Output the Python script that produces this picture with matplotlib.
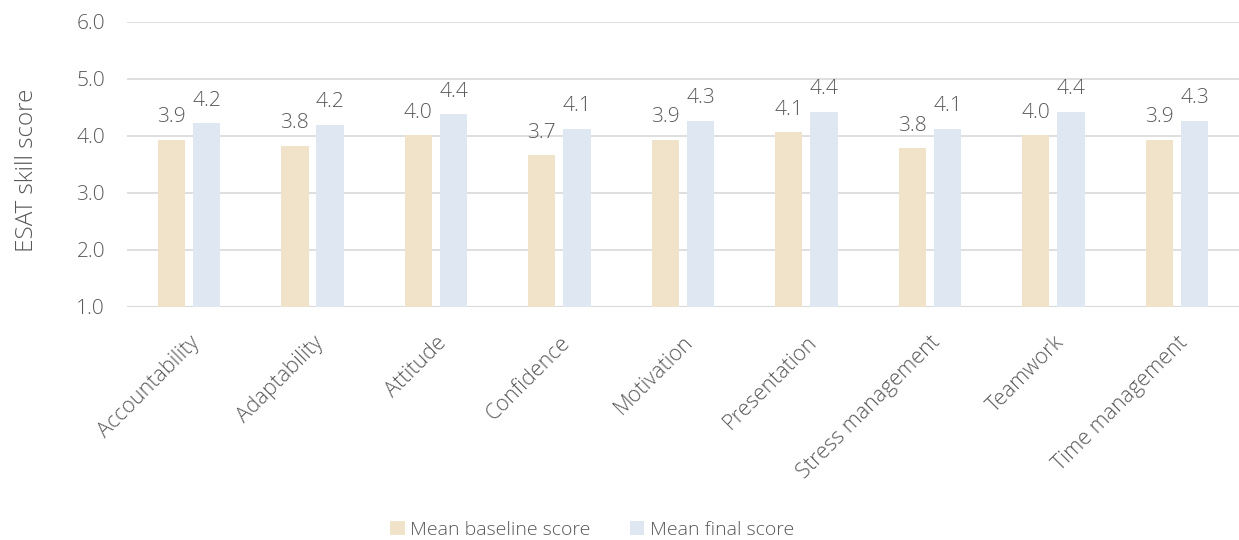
import matplotlib
matplotlib.use('Agg')
import matplotlib.pyplot as plt
import numpy as np

plt.rcParams['font.family'] = ['Open Sans', 'DejaVu Sans']

skills = ['Accountability', 'Adaptability', 'Attitude', 'Confidence', 'Motivation',
          'Presentation', 'Stress management', 'Teamwork', 'Time management']
baseline = [3.93, 3.83, 4.01, 3.66, 3.93, 4.06, 3.78, 4.01, 3.93]
final = [4.22, 4.19, 4.38, 4.12, 4.26, 4.42, 4.12, 4.42, 4.26]

col_base = '#F1E3C9'
col_final = '#DFE7F3'
txt = '#595959'
grid = '#D9D9D9'

fig = plt.figure(figsize=(12.39, 5.4), dpi=100)
ax = fig.add_axes([0.1027, 0.4315, 0.897, 0.5283])

x = np.arange(len(skills))
w = 0.222
off = 0.143
b1 = ax.bar(x - off, baseline, w, bottom=0, color=col_base, label='Mean baseline score', zorder=2)
b2 = ax.bar(x + off, final, w, bottom=0, color=col_final, label='Mean final score', zorder=2)

for bars, vals in ((b1, baseline), (b2, final)):
    for r, v in zip(bars, vals):
        ax.annotate('%.1f' % v, (r.get_x() + r.get_width() / 2, v),
                    xytext=(0, 9), textcoords='offset points',
                    ha='center', va='bottom', fontsize=15, color=txt,
                    fontweight='light')

ax.set_ylim(1, 6)
ax.set_xlim(-0.5, len(skills) - 0.5)
ax.set_yticks([1, 2, 3, 4, 5, 6])
ax.set_yticklabels(['%.1f' % t for t in [1, 2, 3, 4, 5, 6]])
ax.yaxis.grid(True, color=grid, linewidth=1.2, zorder=0)
for s in ax.spines.values():
    s.set_visible(False)
ax.axhline(1, color=grid, linewidth=1.5, zorder=1)
ax.tick_params(axis='both', length=0, labelsize=15, colors=txt)
ax.tick_params(axis='y', pad=16)

ax.set_xticks(x)
ax.set_xticklabels(skills, rotation=45, ha='right', rotation_mode='anchor',
                   fontweight='light', fontsize=15.5)
ax.tick_params(axis='x', pad=18)
for lab in ax.get_yticklabels():
    lab.set_fontweight('light')

ax.set_ylabel('ESAT skill score', fontsize=17.5, color=txt, fontweight='light')
ax.yaxis.set_label_coords(-0.0795, 0.48)

leg = fig.legend(loc='lower center', bbox_to_anchor=(0.478, -0.03), ncol=2, frameon=False,
                 fontsize=14, handlelength=0.75, handleheight=0.75, handletextpad=0.3,
                 columnspacing=2.0)
for t in leg.get_texts():
    t.set_color(txt)
    t.set_fontweight('light')

fig.savefig('out.png', dpi=100)
